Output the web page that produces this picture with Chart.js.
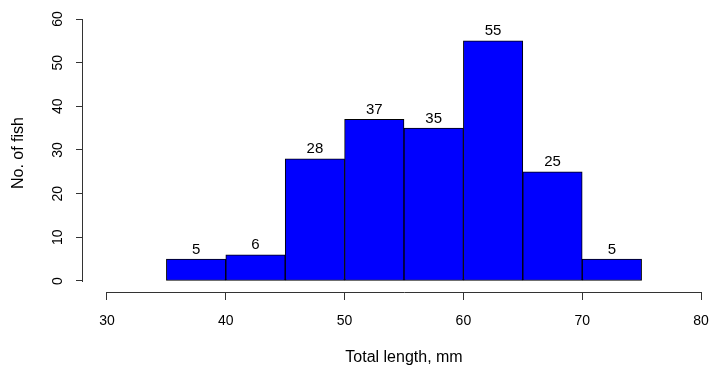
<!DOCTYPE html>
<html>
<head>
<meta charset="utf-8">
<script src="https://cdn.jsdelivr.net/npm/chart.js@4"></script>
<style>
  html, body { margin: 0; padding: 0; background: #fff; }
  #wrap { width: 713px; height: 374px; }
</style>
</head>
<body>
<div id="wrap"><canvas id="chart"></canvas></div>
<script>
// --- données de l'histogramme ---
const binStarts = [35, 40, 45, 50, 55, 60, 65, 70];
const binWidth = 5;
const counts = [5, 6, 28, 37, 35, 55, 25, 5];
const xTicks = [30, 40, 50, 60, 70, 80];
const yTicks = [0, 10, 20, 30, 40, 50, 60];
const xTitle = 'Total length, mm';
const yTitle = 'No. of fish';

const FONT = 'Liberation Sans, Arial, sans-serif';

// axes façon R : traits limités aux graduations, titres, et étiquettes au-dessus des barres
const rStyle = {
  id: 'rStyle',
  afterDraw(c) {
    const ctx = c.ctx;
    const xs = c.scales.x, ys = c.scales.y;
    const axisX = c.chartArea.bottom;
    const axisY = c.chartArea.left;
    ctx.save();
    ctx.strokeStyle = '#333';
    ctx.lineWidth = 1;
    ctx.beginPath();
    ctx.moveTo(Math.round(xs.getPixelForValue(xTicks[0])), axisX + 0.5);
    ctx.lineTo(Math.round(xs.getPixelForValue(xTicks[xTicks.length - 1])) + 1, axisX + 0.5);
    ctx.moveTo(axisY - 0.5, Math.round(ys.getPixelForValue(yTicks[0])) + 1);
    ctx.lineTo(axisY - 0.5, Math.round(ys.getPixelForValue(yTicks[yTicks.length - 1])));
    ctx.stroke();

    ctx.fillStyle = '#000';
    ctx.font = '16px ' + FONT;
    ctx.textAlign = 'center';
    ctx.textBaseline = 'middle';
    const midX = (xs.getPixelForValue(xTicks[0]) + xs.getPixelForValue(xTicks[xTicks.length - 1])) / 2;
    ctx.fillText(xTitle, midX, 358);
    const midY = (ys.getPixelForValue(yTicks[0]) + ys.getPixelForValue(yTicks[yTicks.length - 1])) / 2;
    ctx.save();
    ctx.translate(19, midY + 3);
    ctx.rotate(-Math.PI / 2);
    ctx.fillText(yTitle, 0, 0);
    ctx.restore();

    ctx.font = '15px ' + FONT;
    ctx.textBaseline = 'bottom';
    c.getDatasetMeta(0).data.forEach((bar, i) => {
      ctx.fillText(String(counts[i]), bar.x, bar.y - 2);
    });
    ctx.restore();
  }
};

new Chart(document.getElementById('chart'), {
  type: 'bar',
  data: {
    datasets: [{
      data: binStarts.map((s, i) => ({ x: s + binWidth / 2, y: counts[i] })),
      backgroundColor: '#0000ff',
      borderColor: '#000',
      borderWidth: 1,
      borderSkipped: false,
      barPercentage: 1,
      categoryPercentage: 1
    }]
  },
  options: {
    responsive: true,
    maintainAspectRatio: false,
    animation: false,
    layout: { padding: { top: 19, right: 12, left: 0, bottom: 0 } },
    plugins: { legend: { display: false }, tooltip: { enabled: false } },
    scales: {
      x: {
        type: 'linear',
        offset: false,
        min: 27.98,
        max: 80,
        afterBuildTicks: s => { s.ticks = xTicks.map(v => ({ value: v })); },
        afterFit: s => { s.height = 82; s.paddingLeft = 0; s.paddingRight = 0; },
        border: { display: false },
        grid: { offset: false, drawOnChartArea: false, tickLength: 8, color: '#333' },
        ticks: { color: '#000', padding: 13, maxRotation: 0, font: { size: 14, family: FONT } }
      },
      y: {
        min: -2.52,
        max: 60,
        afterBuildTicks: s => { s.ticks = yTicks.map(v => ({ value: v })); },
        afterFit: s => { s.width = 83; s.paddingTop = 0; s.paddingBottom = 0; },
        border: { display: false },
        grid: { drawOnChartArea: false, tickLength: 7, color: '#333' },
        ticks: { color: '#000', padding: 10, minRotation: 90, maxRotation: 90, crossAlign: 'center', font: { size: 14, family: FONT } }
      }
    }
  },
  plugins: [rStyle]
});
</script>
</body>
</html>
